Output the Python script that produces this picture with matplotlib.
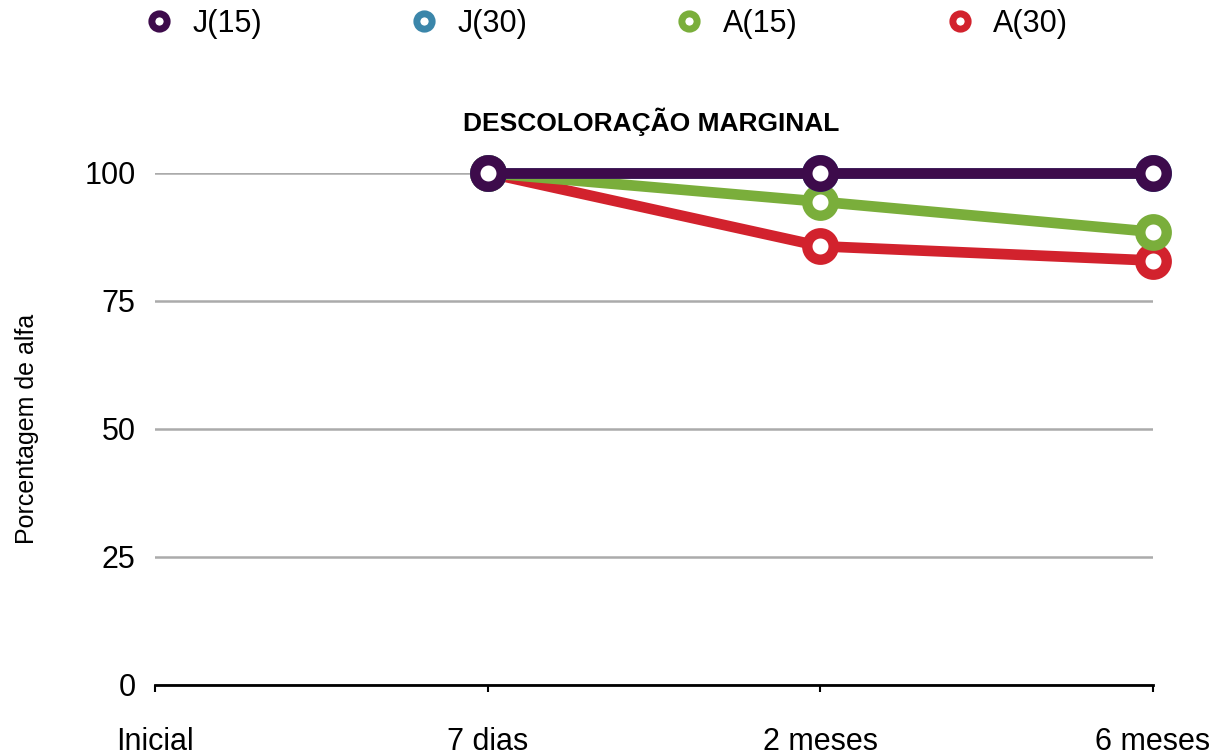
import matplotlib
matplotlib.use("Agg")
import matplotlib.pyplot as plt
from matplotlib.lines import Line2D
import numpy as np

plt.rcParams['font.family'] = ['Liberation Sans', 'DejaVu Sans']

categories = ["Inicial", "7 dias", "2 meses", "6 meses"]
series_names = ["J(15)", "J(30)", "A(15)", "A(30)"]
j15 = [np.nan, 100, 100, 100]
j30 = [np.nan, 100, 100, 100]
a15 = [np.nan, 100, 94.4, 88.5]
a30 = [np.nan, 100, 85.7, 82.9]
colors = ["#3D0B4B", "#3B86AA", "#7AAE3B", "#D2222D"]
yticks = [0, 25, 50, 75, 100]
title = "DESCOLORAÇÃO MARGINAL"
ylabel = "Porcentagem de alfa"

data = [j15, j30, a15, a30]

fig = plt.figure(figsize=(12.26, 7.55), dpi=100)
ax = fig.add_axes([155/1226, 1-685/755, (1153-155)/1226, (685-173)/755])

x = np.arange(len(categories))
# draw bottom-to-top: A(30), A(15), J(30), J(15)
for i in [3, 2, 1, 0]:
    ax.plot(x, data[i], color=colors[i], lw=7.7, marker='o', ms=19,
            mfc='white', mec=colors[i], mew=7.5, clip_on=False, zorder=3 + (3 - i),
            solid_capstyle='butt')

ax.set_xlim(0, len(categories) - 1)
ax.set_ylim(0, 100)
ax.set_xticks(x)
ax.set_xticklabels(categories, fontsize=22)
ax.set_yticks(yticks)
ax.set_yticklabels([str(v) for v in yticks], fontsize=22)
ax.tick_params(axis='x', direction='out', length=5, width=1.5, color='black', pad=25)
ax.tick_params(axis='y', length=0, pad=14)
ax.yaxis.grid(True, color='#ABABAB', lw=1.8)
ax.set_axisbelow(True)
for s in ['top', 'right', 'left']:
    ax.spines[s].set_visible(False)
ax.spines['bottom'].set_linewidth(2)
ax.spines['bottom'].set_zorder(2)
ax.set_ylabel(ylabel, fontsize=18)
ax.yaxis.set_label_coords((39 - 155) / 998, 0.5)
fig.text(651/1226, 1 - 122/755, title, fontsize=19, fontweight='bold',
         ha='center', va='center')

handles = [Line2D([], [], ls='none', marker='o', ms=11, mfc='white', mec=c, mew=5)
           for c in colors]
fig.legend(handles, series_names, loc='center', bbox_to_anchor=(606/1226, 1 - 24/755),
           ncol=4, frameon=False, fontsize=22, columnspacing=4.8, handletextpad=0.6,
           handlelength=1.0, borderpad=0)

fig.savefig("out.png", dpi=100)
